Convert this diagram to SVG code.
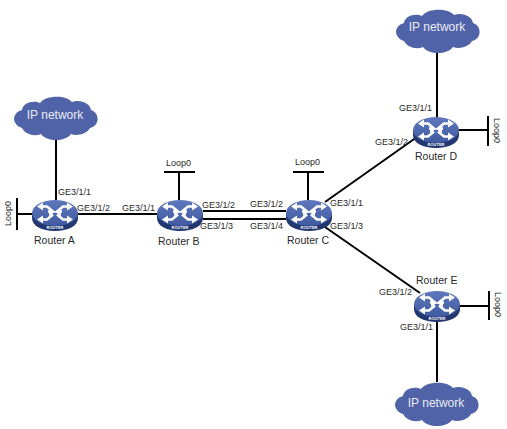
<svg xmlns="http://www.w3.org/2000/svg" width="507" height="429" viewBox="0 0 507 429">
<style>
text{font-family:"Liberation Sans",Arial,sans-serif;fill:#2a2a2a}
.l{font-size:9px}
.n{font-size:10.500px}
.c{font-size:12px;fill:#e8ebf5;text-anchor:middle}
.k{stroke:#000;stroke-width:2;fill:none}
.a{stroke:#fff;stroke-width:2.600;fill:none}
.r{font-size:4px;font-weight:bold;fill:#fff;text-anchor:middle}
</style>
<defs>
<linearGradient id="g" x1="0" y1="0" x2="0" y2="1"><stop offset="0" stop-color="#5f78bd"/><stop offset="1" stop-color="#3f5aa0"/></linearGradient>
<g id="router">
<path d="M-23 13V18C-23 26 -13 31 0 31S23 26 23 18V13Z" fill="#22376f"/>
<ellipse cx="0" cy="13" rx="23" ry="13" fill="url(#g)"/>
<path class="a" d="M-14 6.500H-8L-2 11.500H-7M-14 19.500H-8L-2 14.500M14 6.500H8L2 11.500H7M14 19.500H8L2 14.500"/>
<path d="M-18 6.500l6-4v8zM-18 19.500l6-4v8zM18 6.500l-6-4v8zM18 19.500l-6-4v8zM-1 12.500l-5-3.500v7zM1 12.500l5-3.500v7z" fill="#fff"/>
<text class="r" x="0" y="29">ROUTER</text>
</g>
<path id="cloud" d="M8 14C9 6 20 4 26 7C32 -1 52 -1 58 6C66 3 76 7 77 14C86 17 86 30 76 32C72 39 62 40 57 38C51 46 33 46 27 38C20 41 11 38 8 32C-2 29 -3 17 8 14Z" fill="#5163a8"/>
</defs>
<g id="connectors">
<path class="k" d="M56 138V200M78 214H157M203 211H286M203 219H286M17 214H32M17 198V230M179 200V172M164 172H195M308 200V172M293 172H324M325 202L417 137M325 227L420 293M437 50V118M458 130H488M488 116V146M459 306H489M489 291V320M437 322V382"/>
</g>
<g id="cloud-a"><use href="#cloud" x="14" y="96"/><text class="c" x="55" y="119">IP network</text></g>
<g id="cloud-d"><use href="#cloud" x="396" y="9"/><text class="c" x="437" y="31">IP network</text></g>
<g id="cloud-e"><use href="#cloud" x="395" y="382"/><text class="c" x="436" y="407">IP network</text></g>
<g id="router-a"><use href="#router" x="55" y="200"/><text class="n" x="34" y="244">Router A</text></g>
<g id="router-b"><use href="#router" x="180" y="200"/><text class="n" x="158" y="245">Router B</text></g>
<g id="router-c"><use href="#router" x="309" y="200"/><text class="n" x="287" y="244">Router C</text></g>
<g id="router-d"><use href="#router" x="436" y="117"/><text class="n" x="415" y="160">Router D</text></g>
<g id="router-e"><use href="#router" x="437" y="291"/><text class="n" x="416" y="284">Router E</text></g>
<g id="labels">
<text class="l" x="58" y="195">GE3/1/1</text>
<text class="l" x="77" y="211">GE3/1/2</text>
<text class="l" x="122" y="211">GE3/1/1</text>
<text class="l" x="202" y="208">GE3/1/2</text>
<text class="l" x="200" y="229">GE3/1/3</text>
<text class="l" x="250" y="207">GE3/1/2</text>
<text class="l" x="250" y="229">GE3/1/4</text>
<text class="l" x="330" y="206">GE3/1/1</text>
<text class="l" x="330" y="229">GE3/1/3</text>
<text class="l" x="399" y="111">GE3/1/1</text>
<text class="l" x="375" y="145">GE3/1/2</text>
<text class="l" x="379" y="295">GE3/1/2</text>
<text class="l" x="400" y="330">GE3/1/1</text>
<text class="l" x="166" y="166">Loop0</text>
<text class="l" x="295" y="165">Loop0</text>
<text class="l" transform="translate(11 226) rotate(-90)">Loop0</text>
<text class="l" transform="translate(494 118) rotate(90)">Loop0</text>
<text class="l" transform="translate(495 292) rotate(90)">Loop0</text>
</g>
</svg>
